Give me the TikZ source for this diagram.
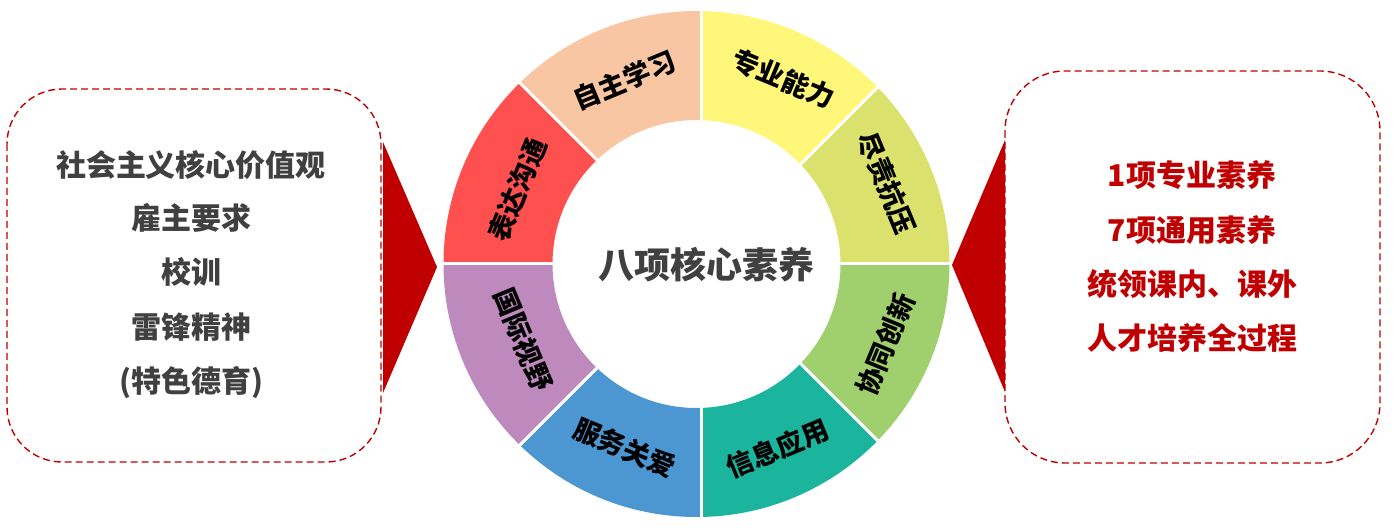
\documentclass[tikz,border=0pt]{standalone}
\usepackage{fontspec}
\setmainfont{Noto Sans CJK SC}
\usetikzlibrary{calc}
\definecolor{segPeach}{HTML}{F8C6A2}
\definecolor{segYellow}{HTML}{FFF77A}
\definecolor{segLime}{HTML}{DAE16C}
\definecolor{segGreen}{HTML}{A0CF6E}
\definecolor{segTeal}{HTML}{1BB59E}
\definecolor{segBlue}{HTML}{4C96D2}
\definecolor{segPurple}{HTML}{BE8ABE}
\definecolor{segRed}{HTML}{FF5050}
\definecolor{darkRed}{HTML}{C00000}
\definecolor{txtGray}{HTML}{404040}
\begin{document}
\begin{tikzpicture}[x=1pt,y=1pt,
  seglabel/.style={font=\bfseries\fontsize{27}{27}\selectfont, text=black, inner sep=0pt},
  centerlabel/.style={font=\bfseries\fontsize{36}{36}\selectfont, text=txtGray, inner sep=0pt},
  lefttext/.style={font=\bfseries\fontsize{30}{30}\selectfont, text=txtGray, inner sep=0pt},
  righttext/.style={font=\bfseries\fontsize{30}{30}\selectfont, text=darkRed, inner sep=0pt},
  dashbox/.style={draw=darkRed, line width=1.4pt, dash pattern=on 7pt off 4pt},
  pointer/.style={fill=darkRed, draw=none}]
\useasboundingbox (0,0) rectangle (1395,530);
\coordinate (O) at (696.5,266);
\coordinate (D) at (701,266);
% ring segments
\foreach \a/\col in {0/segLime,45/segYellow,90/segPeach,135/segRed,180/segPurple,225/segBlue,270/segTeal,315/segGreen}{
  \begin{scope}
    \clip (D) -- +(\a:420) -- +(\a+22.5:440) -- +(\a+45:420) -- cycle;
    \fill[\col, even odd rule] (O) circle (253) (O) circle (144);
  \end{scope}
}
\begin{scope}
  \clip (O) circle (254);
  \foreach \a in {0,45,...,315}{
    \draw[white, line width=3pt] (D) -- +(\a:300);
  }
\end{scope}
% segment labels
\node[seglabel, rotate=22.5]  (s1) at ([shift={(112.5:199)}]D) {自主学习};
\node[seglabel, rotate=-22.5] (s2) at ([shift={(66:203)}]D) {专业能力};
\node[seglabel, rotate=-67.5] (s3) at ([shift={(23.5:203)}]D) {尽责抗压};
\node[seglabel, rotate=67.5]  (s4) at ([shift={(-23.5:201)}]D) {协同创新};
\node[seglabel, rotate=22.5]  (s5) at ([shift={(-67.5:200)}]D) {信息应用};
\node[seglabel, rotate=-22.5] (s6) at ([shift={(-112.5:199)}]D) {服务关爱};
\node[seglabel, rotate=-67.5] (s7) at ([shift={(-157:193)}]D) {国际视野};
\node[seglabel, rotate=67.5]  (s8) at ([shift={(158:198)}]D) {表达沟通};
\node[centerlabel] (core) at (706,265) {八项核心素养};
% left box
\draw[dashbox, rounded corners=55pt] (7,441) rectangle (381,68);
\fill[pointer] (383,388) -- (437,263) -- (383,137) -- cycle;
\node[lefttext] (a1) at (191,365) {社会主义核心价值观};
\node[lefttext] (a2) at (191,312) {雇主要求};
\node[lefttext] (a3) at (191,258) {校训};
\node[lefttext] (a4) at (191,203) {雷锋精神};
\node[lefttext] (a5) at (191,148) {(特色德育)};
% right box
\draw[dashbox, rounded corners=60pt] (1005,459) rectangle (1380,67);
\fill[pointer] (1005,390) -- (952,265) -- (1005,138) -- cycle;
\node[righttext] (b1) at (1192,355) {1项专业素养};
\node[righttext] (b2) at (1192,300) {7项通用素养};
\node[righttext] (b3) at (1192,246) {统领课内、课外};
\node[righttext] (b4) at (1192,192) {人才培养全过程};
\end{tikzpicture}
\end{document}
